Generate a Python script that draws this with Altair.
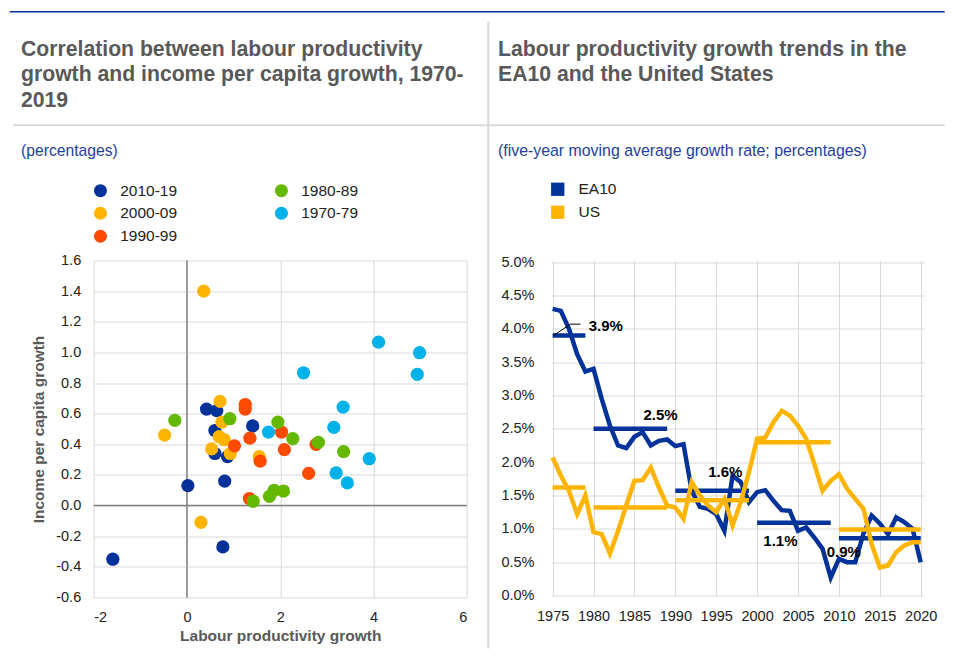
import altair as alt
import pandas as pd

FONT = "Liberation Sans"
TITLE_GREY = "#595959"
SUB_BLUE = "#23419b"

# ---------------- left panel: scatter data ----------------
periods = ["2010-19", "2000-09", "1990-99", "1980-89", "1970-79"]
period_colors = ["#003299", "#FFB400", "#FF4B00", "#65B800", "#00B1EA"]
lp_2010 = [-1.59, 0.02, 0.77, 0.81, 0.42, 0.64, 1.41, 0.60, 0.60, 0.87]
ipc_2010 = [-0.35, 0.13, -0.27, 0.16, 0.63, 0.62, 0.52, 0.49, 0.34, 0.32]
lp_2000 = [0.36, -0.48, 0.30, 0.71, 0.75, 0.69, 0.80, 0.53, 0.93, 1.55]
ipc_2000 = [1.40, 0.46, -0.11, 0.68, 0.545, 0.45, 0.43, 0.37, 0.34, 0.32]
lp_1990 = [1.25, 1.25, 1.02, 1.35, 2.03, 2.09, 1.57, 1.34, 2.77, 2.61]
ipc_1990 = [0.66, 0.63, 0.39, 0.44, 0.48, 0.365, 0.29, 0.046, 0.40, 0.21]
lp_1980 = [-0.26, 0.92, 1.95, 2.27, 2.82, 3.36, 1.42, 1.77, 1.87, 2.07]
ipc_1980 = [0.556, 0.567, 0.545, 0.437, 0.413, 0.352, 0.028, 0.06, 0.10, 0.095]
lp_1970 = [4.11, 4.99, 4.94, 2.50, 3.35, 3.15, 1.75, 3.91, 3.20, 3.44]
ipc_1970 = [1.067, 0.998, 0.857, 0.867, 0.643, 0.511, 0.48, 0.306, 0.213, 0.148]

scatter_rows = []
k = 0
for p, xs, ys in zip(periods,
                     [lp_2010, lp_2000, lp_1990, lp_1980, lp_1970],
                     [ipc_2010, ipc_2000, ipc_1990, ipc_1980, ipc_1970]):
    for a, b in zip(xs, ys):
        scatter_rows.append({"lp": a, "ipc": b, "period": p, "ord": k})
        k += 1
scatter_df = pd.DataFrame(scatter_rows)

x_ticks_left = [-2, 0, 2, 4, 6]
y_ticks_left = [-0.6, -0.4, -0.2, 0.0, 0.2, 0.4, 0.6, 0.8, 1.0, 1.2, 1.4, 1.6]

# ---------------- right panel: time series ----------------
years = list(range(1975, 2021))
ea10 = [4.30, 4.27, 4.00, 3.62, 3.36, 3.40, 2.95, 2.55, 2.25, 2.21,
        2.38, 2.45, 2.25, 2.32, 2.34, 2.24, 2.27, 1.57, 1.33, 1.30,
        1.22, 0.97, 1.80, 1.70, 1.40, 1.55, 1.58, 1.42, 1.28, 1.27,
        0.97, 1.02, 0.87, 0.70, 0.27, 0.55, 0.50, 0.50, 0.93, 1.20,
        1.08, 0.92, 1.17, 1.10, 1.00, 0.50]
us = [2.07, 1.80, 1.57, 1.22, 1.50, 0.95, 0.92, 0.63, 0.97, 1.35,
      1.72, 1.73, 1.92, 1.62, 1.35, 1.32, 1.15, 1.70, 1.50, 1.35,
      1.25, 1.45, 1.05, 1.40, 1.85, 2.35, 2.37, 2.60, 2.77, 2.70,
      2.55, 2.35, 1.97, 1.57, 1.72, 1.82, 1.60, 1.45, 1.30, 0.77,
      0.42, 0.45, 0.65, 0.75, 0.80, 0.80]
seg_start = [1975, 1980, 1990, 2000, 2010]
seg_end = [1979, 1989, 1999, 2009, 2020]
ea10_avg = [3.90, 2.50, 1.57, 1.09, 0.86]
us_avg = [1.62, 1.32, 1.43, 2.30, 0.99]
avg_label_text = ["3.9%", "2.5%", "1.6%", "1.1%", "0.9%"]
avg_label_year = [1981.5, 1988.2, 1996.1, 2002.85, 2010.6]
avg_label_value = [4.04, 2.70, 1.85, 0.81, 0.65]
leader_year = [1975.1, 1977.2, 1978.4]
leader_value = [3.90, 4.07, 4.07]

series_names = ["EA10", "US"]
series_colors = ["#003299", "#FFB400"]

ea_df = pd.DataFrame({"year": years, "value": ea10, "series": "EA10"})
us_df = pd.DataFrame({"year": years, "value": us, "series": "US"})
series_df = pd.concat([ea_df, us_df], ignore_index=True)
ea_seg_df = pd.DataFrame({"year": seg_start, "year_end": seg_end, "value": ea10_avg})
us_seg_df = pd.DataFrame({"year": seg_start, "year_end": seg_end, "value": us_avg})
lab_df = pd.DataFrame({"year": avg_label_year, "value": avg_label_value, "label": avg_label_text})
leader_df = pd.DataFrame({"year": leader_year, "value": leader_value})

x_ticks_right = list(range(1975, 2021, 5))
y_ticks_right = [0.0, 0.5, 1.0, 1.5, 2.0, 2.5, 3.0, 3.5, 4.0, 4.5, 5.0]

# ---------------- layout constants ----------------
WL, HL = 373, 337
WR, HR = 373, 335
ONE = alt.Data(values=[{}])

# ---------------- left chart ----------------
xL = alt.X("lp:Q", scale=alt.Scale(domain=[-2, 6], nice=False, zero=False),
           axis=alt.Axis(values=x_ticks_left, title="Labour productivity growth",
                         labelExpr="datum.value < 0 ? '-' + format(-datum.value, 'd') : format(datum.value, 'd')",
                         labelPadding=13, titlePadding=5))
yL = alt.Y("ipc:Q", scale=alt.Scale(domain=[-0.6, 1.6], nice=False, zero=False),
           axis=alt.Axis(values=y_ticks_left, title="Income per capita growth",
                         labelExpr="datum.value < -0.001 ? '-' + format(-datum.value, '.1f') : format(abs(datum.value), '.1f')",
                         labelPadding=13, titlePadding=9))

zero_x = alt.Chart(alt.Data(values=[{"lp": 0}])).mark_rule(color="#808080", strokeWidth=1.5).encode(x=xL)
zero_y = alt.Chart(alt.Data(values=[{"ipc": 0}])).mark_rule(color="#808080", strokeWidth=1.5).encode(y=yL)

points = alt.Chart(scatter_df).mark_circle(size=175, opacity=1).encode(
    x=xL, y=yL,
    color=alt.Color("period:N",
                    scale=alt.Scale(domain=periods, range=period_colors),
                    legend=alt.Legend(title=None, orient="none", legendX=-1, legendY=-78,
                                      columns=2, columnPadding=96, rowPadding=6,
                                      symbolType="circle", symbolSize=169, symbolStrokeWidth=0,
                                      labelFontSize=15.5, labelColor="#222222", labelOffset=12,
                                      labelFont=FONT, padding=0)),
    order=alt.Order("ord:Q"),
)

top_rule = alt.Chart(ONE).mark_rule(color="#003299", strokeWidth=1.5).encode(
    x=alt.value(-84), x2=alt.value(851), y=alt.value(-248.7))
sep_rule = alt.Chart(ONE).mark_rule(color="#d9d9d9", strokeWidth=2).encode(
    x=alt.value(-80.7), x2=alt.value(851), y=alt.value(-135.3))
div_rule = alt.Chart(ONE).mark_rule(color="#d9d9d9", strokeWidth=2).encode(
    x=alt.value(394.6), y=alt.value(-239), y2=alt.value(388))
title_left = alt.Chart(ONE).mark_text(
    text=["Correlation between labour productivity",
          "growth and income per capita growth, 1970-",
          "2019"],
    align="left", baseline="alphabetic", font=FONT, fontSize=21.2, fontWeight="bold",
    color=TITLE_GREY, lineHeight=26).encode(x=alt.value(-72.7), y=alt.value(-205))
sub_left = alt.Chart(ONE).mark_text(
    text="(percentages)", align="left", baseline="alphabetic", font=FONT,
    fontSize=15.7, color=SUB_BLUE).encode(x=alt.value(-72.7), y=alt.value(-105))

left = alt.layer(top_rule, sep_rule, div_rule, title_left, sub_left,
                 zero_x, zero_y, points).properties(width=WL, height=HL)

# ---------------- right chart ----------------
xR = alt.X("year:Q", scale=alt.Scale(domain=[1974.8, 2020.4], nice=False, zero=False),
           axis=alt.Axis(values=x_ticks_right, title=None, format="d", labelPadding=14))
yR = alt.Y("value:Q", scale=alt.Scale(domain=[0, 5.025], nice=False, zero=False),
           axis=alt.Axis(values=y_ticks_right, title=None,
                         labelExpr="format(datum.value, '.1f') + '%'", labelPadding=17))

line_ea = alt.Chart(ea_df).mark_line(color=series_colors[0], strokeWidth=4.5).encode(x=xR, y=yR)
line_us = alt.Chart(us_df).mark_line(color=series_colors[1], strokeWidth=4.5).encode(x=xR, y=yR)
seg_ea = alt.Chart(ea_seg_df).mark_rule(color=series_colors[0], strokeWidth=4.5).encode(
    x=xR, x2="year_end:Q", y=yR)
seg_us = alt.Chart(us_seg_df).mark_rule(color=series_colors[1], strokeWidth=4.5).encode(
    x=xR, x2="year_end:Q", y=yR)
leader = alt.Chart(leader_df).mark_line(color="#000000", strokeWidth=1).encode(x=xR, y=yR)
labels = alt.Chart(lab_df).mark_text(font=FONT, fontSize=15, fontWeight="bold",
                                     color="#000000", align="center", baseline="middle").encode(
    x=xR, y=yR, text="label:N")
legend_layer = alt.Chart(series_df).mark_square(opacity=0).encode(
    x=xR, y=yR,
    color=alt.Color("series:N", scale=alt.Scale(domain=series_names, range=series_colors),
                    legend=alt.Legend(title=None, orient="none", legendX=-1, legendY=-79,
                                      symbolType="square", symbolSize=177, symbolStrokeWidth=0,
                                      symbolOpacity=1, rowPadding=6,
                                      labelFontSize=15.5, labelColor="#222222", labelOffset=13,
                                      labelFont=FONT, padding=0)))

title_right = alt.Chart(ONE).mark_text(
    text=["Labour productivity growth trends in the", "EA10 and the United States"],
    align="left", baseline="alphabetic", font=FONT, fontSize=21.2, fontWeight="bold",
    color=TITLE_GREY, lineHeight=26).encode(x=alt.value(-53), y=alt.value(-205))
sub_right = alt.Chart(ONE).mark_text(
    text="(five-year moving average growth rate; percentages)", align="left",
    baseline="alphabetic", font=FONT, fontSize=15.9, color=SUB_BLUE).encode(
    x=alt.value(-53), y=alt.value(-105))

right = alt.layer(title_right, sub_right, legend_layer, line_ea, seg_ea, line_us, seg_us,
                  leader, labels).properties(width=WR, height=HR)

chart = alt.hconcat(left, right, spacing=84.3, bounds="flush").resolve_scale(
    color="independent").resolve_legend(color="independent").properties(
    padding={"left": 0.7, "top": 2.5, "right": 0, "bottom": 0}
).configure(font=FONT).configure_view(stroke=None).configure_axis(
    grid=True, gridColor="#d9d9d9", gridWidth=1, domain=False, ticks=False,
    labelFont=FONT, labelFontSize=14.5, labelColor="#222222",
    titleFont=FONT, titleFontSize=15.5, titleFontWeight="bold", titleColor=TITLE_GREY)

chart.save("out.html", embed_options={"renderer": "svg", "actions": False})
